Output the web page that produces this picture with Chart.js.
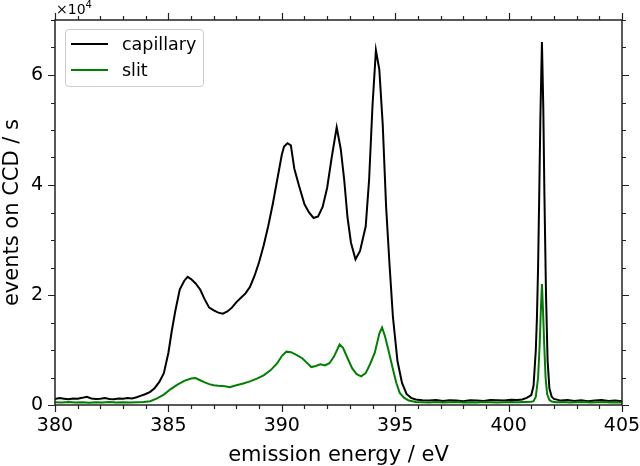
<!DOCTYPE html>
<html>
<head>
<meta charset="utf-8">
<script src="https://cdn.jsdelivr.net/npm/chart.js@4.4.1/dist/chart.umd.min.js"></script>
<style>
  body { margin: 0; background: #fff; }
  #wrap { position: relative; width: 640px; height: 466px; font-family: 'DejaVu Sans', Verdana, sans-serif; }
  #expo { position: absolute; left: 56px; top: -1px; font-size: 14px; color: #000; }
  #expo sup { font-size: 10px; }
  #legenda { position: absolute; left: 65px; top: 29px; width: 137px; height: 56px; border: 1px solid #ccc;
             border-radius: 4px; background: rgba(255,255,255,0.85); }
  .item { position: absolute; left: 0; height: 24px; font-size: 17.5px; line-height: 24px; color: #000; }
  .item span.linha { position: absolute; left: 5px; top: 11px; width: 37px; height: 2px; }
  .item span.txt { position: absolute; left: 56px; top: 0; white-space: nowrap; }
</style>
</head>
<body>
<div id="wrap">
  <canvas id="grafico" width="640" height="466"></canvas>
  <div id="expo">×10<sup>4</sup></div>
  <div id="legenda"></div>
</div>
<script>
// energias (eV) e contagens (eventos/s)
const energiaCapilar = [
  380.0, 380.2, 380.4, 380.6, 380.8, 381.0, 381.2, 381.4, 381.6, 381.8,
  382.0, 382.2, 382.4, 382.6, 382.8, 383.0, 383.2, 383.4, 383.6, 383.8,
  384.0, 384.2, 384.4, 384.6, 384.8, 385.0, 385.15, 385.3, 385.5, 385.7,
  385.85, 386.0, 386.2, 386.4, 386.6, 386.8, 387.0, 387.2, 387.4, 387.6,
  387.8, 388.0, 388.2, 388.4, 388.6, 388.8, 389.0, 389.2, 389.4, 389.6,
  389.8, 390.0, 390.1, 390.25, 390.4, 390.55, 390.75, 391.0, 391.2, 391.4,
  391.6, 391.8, 392.0, 392.2, 392.42, 392.6, 392.75, 392.9, 393.05, 393.25,
  393.45, 393.7, 393.85, 394.0, 394.15, 394.3, 394.45, 394.6, 394.75, 394.9,
  395.1, 395.3, 395.5, 395.7, 395.9, 396.2, 396.5, 396.8, 397.1, 397.4,
  397.7, 398.0, 398.3, 398.6, 398.9, 399.2, 399.5, 399.8, 400.1, 400.4,
  400.6, 400.8, 401.0, 401.1, 401.2, 401.25, 401.3, 401.35, 401.4, 401.47,
  401.53, 401.58, 401.65, 401.72, 401.8, 401.9, 402.0, 402.3, 402.6, 402.9,
  403.2, 403.5, 403.8, 404.1, 404.4, 404.7, 405.0
];
const contagemCapilar = [
  1100, 1250, 1150, 1050, 1200, 1150, 1300, 1500, 1200, 1100,
  1150, 1250, 1100, 1050, 1200, 1150, 1250, 1200, 1400, 1700,
  2000, 2400, 3100, 4200, 5800, 9500, 13500, 17000, 21000, 22600,
  23300, 22900, 22100, 21000, 19200, 17700, 17200, 16800, 16600, 17000,
  17700, 18700, 19500, 20300, 21500, 23500, 26000, 29000, 32500, 36500,
  41000, 45500, 47000, 47600, 47200, 43000, 40000, 36500, 35000, 34000,
  34300, 36000, 39500, 45000, 50500, 46500, 41000, 34000, 29500, 26500,
  28000, 32500, 41000, 54500, 64500, 61000, 51000, 36000, 25500, 16000,
  8000, 4000, 2000, 1300, 1000, 850, 800, 900, 750, 850,
  800, 700, 850, 800, 750, 900, 850, 800, 950, 900,
  1000, 1300, 1800, 3500, 10000, 16000, 25000, 38000, 52000, 66000,
  54000, 38000, 20000, 8000, 3000, 1500, 1100, 800, 900, 750,
  850, 700, 800, 900, 750, 800, 700
];
const energiaFenda = [
  380.0, 380.3, 380.6, 380.9, 381.2, 381.5, 381.8, 382.1, 382.4, 382.7,
  383.0, 383.3, 383.6, 383.9, 384.2, 384.5, 384.8, 385.1, 385.4, 385.7,
  386.0, 386.2, 386.4, 386.6, 386.8, 387.0, 387.2, 387.5, 387.7, 388.0,
  388.3, 388.6, 388.9, 389.2, 389.5, 389.8, 390.0, 390.2, 390.4, 390.6,
  390.9, 391.1, 391.3, 391.5, 391.7, 391.9, 392.1, 392.3, 392.55, 392.7,
  392.9, 393.1, 393.3, 393.5, 393.7, 393.9, 394.1, 394.3, 394.42, 394.55,
  394.7, 394.9, 395.05, 395.2, 395.4, 395.6, 395.9, 396.2, 396.5, 396.8,
  397.1, 397.4, 397.7, 398.0, 398.3, 398.6, 398.9, 399.2, 399.5, 399.8,
  400.1, 400.4, 400.7, 401.0, 401.1, 401.2, 401.3, 401.37, 401.42, 401.47,
  401.52, 401.57, 401.63, 401.7, 401.8, 401.9, 402.1, 402.4, 402.7, 403.0,
  403.3, 403.6, 403.9, 404.2, 404.5, 404.8, 405.0
];
const contagemFenda = [
  500, 450, 550, 450, 500, 400, 500, 450, 550, 450,
  500, 450, 500, 550, 700, 1200, 1900, 2900, 3700, 4400,
  4800, 4900, 4500, 4100, 3800, 3600, 3500, 3400, 3250, 3600,
  3900, 4300, 4800, 5400, 6300, 7600, 8900, 9700, 9600, 9200,
  8500, 7700, 6900, 7100, 7400, 7200, 7600, 8800, 11000, 10400,
  8500, 6700, 5600, 5200, 5800, 7500, 9500, 13000, 14100, 12500,
  10000, 6500, 4000, 2200, 1300, 800, 550, 500, 450, 550,
  450, 500, 550, 450, 500, 450, 550, 500, 450, 500,
  550, 500, 550, 600, 700, 1500, 5000, 11000, 17000, 22000,
  17000, 11000, 5000, 2000, 900, 650, 500, 550, 450, 500,
  550, 450, 500, 550, 450, 500, 450
];

const series = ['capillary', 'slit'];
const cores = ['#000000', '#008000'];

// eixos: marcas maiores (com rótulo) e menores
const xMin = 380, xMax = 405;
const xMarcas = [380, 385, 390, 395, 400, 405];
const xPassoMenor = 1;
const yMin = 0, yMax = 70000;
const yMarcas = [0, 20000, 40000, 60000];
const yPassoMenor = 5000;
const yEscala = 10000; // rótulos em ×10^4

const juntar = (xs, ys) => xs.map((x, i) => ({ x, y: ys[i] }));

// moldura e marcas de escala nos quatro lados
const moldura = {
  id: 'moldura',
  afterDraw(chart) {
    const { ctx, chartArea: a, scales } = chart;
    ctx.save();
    ctx.strokeStyle = '#222';
    ctx.lineWidth = 1.5;
    ctx.strokeRect(a.left, a.top, a.right - a.left, a.bottom - a.top);
    ctx.lineWidth = 1.2;
    ctx.beginPath();
    for (let v = xMin; v <= xMax + 1e-9; v += xPassoMenor) {
      const px = Math.round(scales.x.getPixelForValue(v)) + 0.5;
      const len = xMarcas.some(m => Math.abs(m - v) < 1e-9) ? 7 : 4;
      ctx.moveTo(px, a.bottom); ctx.lineTo(px, a.bottom + len);
      ctx.moveTo(px, a.top); ctx.lineTo(px, a.top - len);
    }
    for (let v = yMin; v <= yMax + 1e-9; v += yPassoMenor) {
      const py = Math.round(scales.y.getPixelForValue(v)) + 0.5;
      const len = yMarcas.includes(v) ? 7 : 4;
      ctx.moveTo(a.left, py); ctx.lineTo(a.left - len, py);
      ctx.moveTo(a.right, py); ctx.lineTo(a.right + len, py);
    }
    ctx.stroke();
    ctx.restore();
  }
};

const fonteMarcas = { family: "'DejaVu Sans', Verdana, sans-serif", size: 19 };
const fonteTitulo = { family: "'DejaVu Sans', Verdana, sans-serif", size: 21 };

const grafico = new Chart(document.getElementById('grafico').getContext('2d'), {
  type: 'line',
  data: {
    datasets: [
      { label: series[0], data: juntar(energiaCapilar, contagemCapilar), borderColor: cores[0],
        borderWidth: 2, pointRadius: 0, tension: 0, fill: false, order: 1 },
      { label: series[1], data: juntar(energiaFenda, contagemFenda), borderColor: cores[1],
        borderWidth: 2, pointRadius: 0, tension: 0, fill: false, order: 0 },
    ],
  },
  options: {
    responsive: false,
    animation: false,
    layout: { padding: { top: 20, right: 18, left: 0, bottom: 0 } },
    plugins: { legend: { display: false }, tooltip: { enabled: false } },
    scales: {
      x: {
        type: 'linear', min: xMin, max: xMax,
        grid: { display: false, drawTicks: false },
        border: { display: false },
        ticks: { color: '#000', font: fonteMarcas, padding: 10, maxRotation: 0, autoSkip: false },
        afterBuildTicks(s) { s.ticks = xMarcas.map(value => ({ value })); },
        title: { display: true, text: 'emission energy / eV', color: '#000', font: fonteTitulo, padding: { top: 0, bottom: -2 } },
        afterFit(s) { s.height = 61; s.paddingLeft = 0; s.paddingRight = 0; },
      },
      y: {
        type: 'linear', min: yMin, max: yMax,
        grid: { display: false, drawTicks: false },
        border: { display: false },
        ticks: { color: '#000', font: fonteMarcas, padding: 12, autoSkip: false,
                 callback: (v) => v / yEscala },
        afterBuildTicks(s) { s.ticks = yMarcas.map(value => ({ value })); },
        title: { display: true, text: 'events on CCD / s', color: '#000', font: fonteTitulo, padding: { top: 0, bottom: 0 } },
        afterFit(s) { s.width = 55; s.paddingTop = 0; s.paddingBottom = 0; },
      },
    },
  },
  plugins: [moldura],
});

// legenda em HTML, a partir dos datasets
const legenda = document.getElementById('legenda');
grafico.data.datasets.forEach((ds, i) => {
  const item = document.createElement('div');
  item.className = 'item';
  item.style.top = (2 + i * 26) + 'px';
  item.style.width = '100%';
  item.innerHTML = `<span class="linha" style="background:${ds.borderColor}"></span><span class="txt">${ds.label}</span>`;
  legenda.appendChild(item);
});
</script>
</body>
</html>
